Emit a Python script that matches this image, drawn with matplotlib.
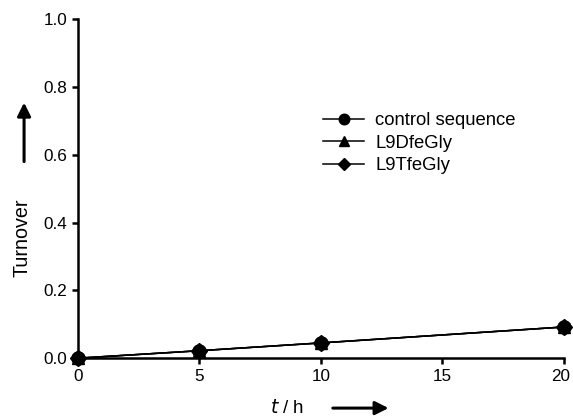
import matplotlib
matplotlib.use("Agg")
import matplotlib.pyplot as plt
from matplotlib.transforms import ScaledTranslation

plt.rcParams['font.family'] = ['Liberation Sans', 'DejaVu Sans']

time_h = [0, 5, 10, 20]
control_sequence = [0.0, 0.022, 0.045, 0.092]
l9dfegly = [0.0, 0.022, 0.045, 0.092]
l9tfegly = [0.0, 0.022, 0.045, 0.092]
series_names = ["control sequence", "L9DfeGly", "L9TfeGly"]
markers = ["o", "^", "D"]
marker_sizes = [9.5, 8.5, 8.2]
x_ticks = [0, 5, 10, 15, 20]
y_ticks = [0.0, 0.2, 0.4, 0.6, 0.8, 1.0]

fig = plt.figure(figsize=(5.73, 4.16), dpi=100)
ax = fig.add_axes([0.136, 0.139, 0.848, 0.815])

for vals, name, m, ms in zip([control_sequence, l9dfegly, l9tfegly], series_names, markers, marker_sizes):
    ax.plot(time_h, vals, color="black", lw=1.1, marker=m, ms=ms,
            label=name, clip_on=False, zorder=3)

ax.set_xlim(0, 20)
ax.set_ylim(0, 1.0)
ax.set_xticks(x_ticks)
ax.set_xticklabels([str(v) for v in x_ticks])
ax.set_yticks(y_ticks)
ax.set_yticklabels([f"{v:.1f}" for v in y_ticks])
for s in ["top", "right"]:
    ax.spines[s].set_visible(False)
for s in ["left", "bottom"]:
    ax.spines[s].set_linewidth(1.8)
ax.tick_params(width=1.8, length=4.5, labelsize=12.3, direction="out", pad=3)
last = ax.get_xticklabels()[-1]
last.set_transform(last.get_transform() + ScaledTranslation(-2.5 / 72, 0, fig.dpi_scale_trans))

leg = ax.legend(loc="center left", bbox_to_anchor=(0.471, 0.634), frameon=False,
                fontsize=13.3, handlelength=2.2, labelspacing=0.3, handletextpad=0.6,
                markerscale=0.8)

# axis labels with arrows
fig.text(0.038, 0.428, "Turnover", rotation=90, ha="center", va="center", fontsize=14.2)
fig.add_artist(matplotlib.patches.FancyArrowPatch((0.042, 0.605), (0.042, 0.76),
               transform=fig.transFigure, arrowstyle="-|>", mutation_scale=20,
               color="black", lw=2.2))
fig.text(0.501, 0.02, r"$\it{t}$ / h", ha="center", va="center", fontsize=13.5)
fig.add_artist(matplotlib.patches.FancyArrowPatch((0.576, 0.019), (0.683, 0.019),
               transform=fig.transFigure, arrowstyle="-|>", mutation_scale=20,
               color="black", lw=2.2))

fig.savefig("out.png", dpi=100)
